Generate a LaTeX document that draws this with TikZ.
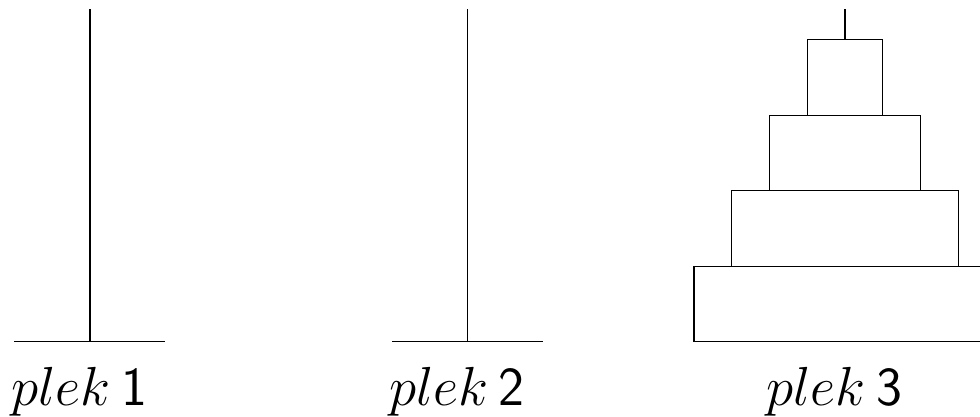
\documentclass[tikz,border=0pt]{standalone}
\usepackage{tikz}
\usetikzlibrary{positioning}

\begin{document}
\begin{tikzpicture}[disk/.style={draw, rectangle, fill=white, minimum height=1cm, inner sep=0pt, outer sep=0pt},
                    peglabel/.style={anchor=base, font=\huge}]
        \useasboundingbox (-1.192,-0.984) rectangle (11.788,4.526);

        % the three pegs with their feet
        \foreach \i in {1,2,3} {
            \coordinate (foot\i) at ({(\i-1)*5},0);
            \coordinate (top\i) at ({(\i-1)*5},4.41);
            \draw ([xshift=-1cm]foot\i) -- ([xshift=1cm]foot\i);
            \draw (foot\i) -- (top\i);
            \node[peglabel] (label\i) at ([xshift=-0.14cm, yshift=-0.84cm]foot\i) {$plek$\hspace{4pt}\textsf{\i}};
        }

        % disks on the third peg
        \node[disk, minimum width=4cm] (d4) at (10,0.5) {};
        \node[disk, minimum width=3cm] (d3) [above=0pt of d4] {};
        \node[disk, minimum width=2cm] (d2) [above=0pt of d3] {};
        \node[disk, minimum width=1cm] (d1) [above=0pt of d2] {};

    \end{tikzpicture}
\end{document}
